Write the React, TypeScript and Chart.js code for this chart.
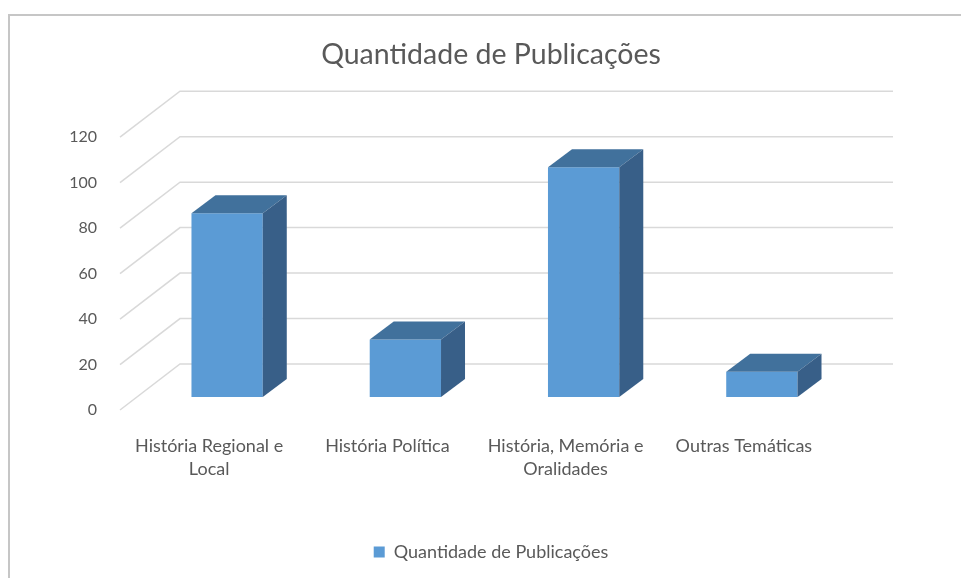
import React, { useEffect, useRef } from "react";
import { Chart, registerables } from "chart.js";

Chart.register(...registerables);

const categories: string[][] = [
  ["História Regional e", "Local"],
  ["História Política"],
  ["História, Memória e", "Oralidades"],
  ["Outras Temáticas"],
];
const seriesName = "Quantidade de Publicações";
const publicacoes: number[] = [80, 25, 100, 11];
const yTicks: number[] = [0, 20, 40, 60, 80, 100, 120];

const FONT = "Lato, 'Open Sans', sans-serif";
const TEXT = "#595959";
const GRID = "#D9D9D9";
const FRONT = "#5B9BD5";
const TOP = "#41719C";
const SIDE = "#385F88";

// perspective offsets
const WALL_DX = 60;
const WALL_DY = -46;
const BAR_DX = 18;
const BAR_DY = -13;
const DEPTH_DX = 24;
const DEPTH_DY = -18;
const BAR_K = 1.011; // slight vertical stretch of the bar plane

const threeD = {
  id: "threeD",
  beforeDraw(chart: any) {
    const ctx = chart.ctx;
    ctx.save();
    ctx.fillStyle = "#ffffff";
    ctx.fillRect(0, 0, chart.width, chart.height);
    ctx.strokeStyle = "#C6C6C6";
    ctx.lineWidth = 2;
    ctx.strokeRect(9, 15, chart.width + 20, chart.height + 20);
    ctx.restore();
  },
  beforeDatasetsDraw(chart: any) {
    const ctx = chart.ctx;
    const { left, right } = chart.chartArea;
    const y = chart.scales.y;
    ctx.save();
    ctx.strokeStyle = GRID;
    ctx.lineWidth = 1.5;
    yTicks.forEach((v) => {
      const py = y.getPixelForValue(v);
      ctx.beginPath();
      ctx.moveTo(left, py);
      ctx.lineTo(left + WALL_DX, py + WALL_DY);
      ctx.lineTo(right + WALL_DX, py + WALL_DY);
      ctx.stroke();
    });
    ctx.restore();
    const base = y.getPixelForValue(0);
    ctx.save();
    ctx.translate(BAR_DX, base + BAR_DY);
    ctx.scale(1, BAR_K);
    ctx.translate(0, -base);
  },
  afterDatasetsDraw(chart: any) {
    const ctx = chart.ctx;
    ctx.restore();
    const meta = chart.getDatasetMeta(0);
    ctx.save();
    meta.data.forEach((bar: any) => {
      const { x, y, base, width } = bar.getProps(["x", "y", "base", "width"], true);
      const l = x - width / 2 + BAR_DX;
      const r = x + width / 2 + BAR_DX;
      const t = base + (y - base) * BAR_K + BAR_DY;
      const b = base + BAR_DY;
      ctx.fillStyle = TOP;
      ctx.beginPath();
      ctx.moveTo(l, t);
      ctx.lineTo(l + DEPTH_DX, t + DEPTH_DY);
      ctx.lineTo(r + DEPTH_DX, t + DEPTH_DY);
      ctx.lineTo(r, t);
      ctx.closePath();
      ctx.fill();
      ctx.fillStyle = SIDE;
      ctx.beginPath();
      ctx.moveTo(r, t);
      ctx.lineTo(r + DEPTH_DX, t + DEPTH_DY);
      ctx.lineTo(r + DEPTH_DX, b + DEPTH_DY);
      ctx.lineTo(r, b);
      ctx.closePath();
      ctx.fill();
    });
    ctx.restore();
  },
};

export default function App() {
  const ref = useRef<HTMLCanvasElement | null>(null);
  useEffect(() => {
    if (!ref.current) return;
    const chart = new Chart(ref.current, {
      type: "bar",
      data: {
        labels: categories,
        datasets: [
          {
            label: seriesName,
            data: publicacoes,
            backgroundColor: FRONT,
            borderWidth: 0,
            barPercentage: 1,
            categoryPercentage: 0.4,
            clip: false as any,
          },
        ],
      },
      options: {
        responsive: false,
        animation: false,
        layout: { padding: { left: 21, right: 0, top: 0, bottom: 7 } },
        plugins: {
          title: {
            display: true,
            text: seriesName,
            color: TEXT,
            font: { family: FONT, size: 28.5, weight: "normal", lineHeight: 1.2 },
            padding: { top: 38, bottom: 65 },
          },
          legend: {
            display: true,
            position: "bottom",
            labels: {
              color: TEXT,
              boxWidth: 11,
              boxHeight: 11,
              font: { family: FONT, size: 18 },
            },
          },
          tooltip: { enabled: false },
        },
        scales: {
          x: {
            grid: { display: false, drawTicks: false },
            border: { display: false },
            ticks: {
              color: TEXT,
              font: { family: FONT, size: 18, lineHeight: 1.28 },
              padding: 25,
              maxRotation: 0,
              autoSkip: false,
            },
            afterFit: (s: any) => {
              s.height = 123;
            },
          },
          y: {
            min: 0,
            max: 120,
            grid: { display: false, drawTicks: false },
            border: { display: false },
            ticks: {
              color: TEXT,
              stepSize: 20,
              font: { family: FONT, size: 16 },
              padding: 23,
            },
            afterFit: (s: any) => {
              s.width = 99;
            },
          },
          yRight: {
            type: "linear",
            position: "right",
            display: true,
            grid: { display: false, drawTicks: false },
            border: { display: false },
            ticks: { display: false },
            afterFit: (s: any) => {
              s.width = 128;
            },
          },
        },
      },
      plugins: [threeD],
    });
    return () => chart.destroy();
  }, []);
  return (
    <div style={{ position: "fixed", left: 0, top: 0, width: 961, height: 578 }}>
      <canvas ref={ref} width={961} height={578} style={{ display: "block" }} />
    </div>
  );
}
